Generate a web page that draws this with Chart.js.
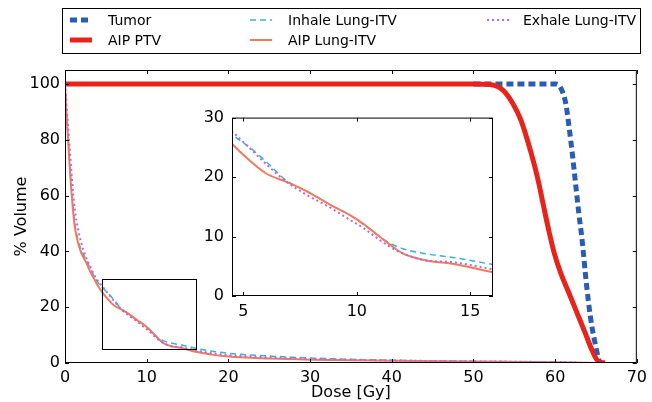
<!DOCTYPE html>
<html>
<head>
<meta charset="utf-8">
<script src="https://cdn.jsdelivr.net/npm/chart.js@4.4.0/dist/chart.umd.min.js"></script>
<style>
  html, body { margin: 0; padding: 0; background: #fff; }
  #wrap { position: relative; width: 652px; height: 402px; }
  #main { position: absolute; left: 0; top: 0; width: 652px; height: 402px; }
  #inset { position: absolute; left: 195px; top: 100px; width: 305px; height: 220px; }
</style>
</head>
<body>
<div id="wrap">
  <canvas id="main" width="652" height="402"></canvas>
  <canvas id="inset" width="305" height="220"></canvas>
</div>
<script>
// DVH curves (dose in Gy, % volume)
// tumor is hidden under the PTV line below ~50 Gy, so it starts there
const tumorDose = [50, 60.1, 60.7, 61.3, 61.7, 62.1, 62.5, 62.9, 63.3, 63.7, 64.1, 64.5, 64.9, 65.3, 65.5];
const tumorVol  = [100, 100, 98.5, 93, 84.7, 75.1, 64.4, 53.6, 44.1, 32.1, 21.4, 13.0, 7.0, 1.7, 0];

const ptvDose = [0, 50, 52, 53.6, 54.8, 55.8, 56.6, 57.4, 58.0, 58.6, 59.3, 59.9, 60.7, 61.7, 62.7, 63.7, 64.5, 65.3, 66.1];
const ptvVol  = [100, 100, 99.8, 97.8, 93.1, 87.1, 79.9, 71.6, 64.4, 56.0, 46.5, 39.3, 32.1, 25.0, 17.8, 10.6, 4.7, 0.5, 0];

const lungDose   = [0, 0.2, 0.4, 0.6, 0.8, 1.0, 1.2, 1.6, 2.0, 2.5, 3.0, 3.5, 4.0, 4.5, 5.3, 6.0, 6.9, 7.8, 8.9, 9.7, 10.3, 10.9, 11.4, 12.0, 12.9, 14.4, 16, 18, 20, 25, 30, 40, 50, 60, 65];
const inhaleVol  = [100, 89, 80, 70, 62, 55.5, 50, 44, 40.5, 37.5, 34.5, 31.5, 29, 27.2, 24.9, 22.6, 19.4, 17.6, 15.2, 13.6, 12.0, 10.3, 9.0, 8.0, 7.2, 6.4, 5.3, 4.2, 3.5, 2.5, 1.8, 1.0, 0.6, 0.3, 0];
const aipLungVol = [100, 88, 79, 69, 61, 54, 48.7, 43, 39.4, 36.5, 33.3, 30.5, 27.8, 25.6, 22.7, 20.6, 19.2, 17.6, 15.2, 13.6, 12.1, 10.3, 8.8, 7.2, 6.1, 5.3, 4.0, 3.0, 2.3, 1.6, 1.2, 0.8, 0.5, 0.3, 0];
const exhaleVol  = [100, 92, 84, 76, 68, 61, 55, 48, 43, 38.5, 35, 32, 29.5, 27.7, 24.8, 22.2, 19.2, 17.0, 14.7, 12.8, 11.4, 9.7, 8.4, 7.2, 6.1, 5.6, 4.5, 3.5, 2.8, 2.0, 1.5, 0.9, 0.6, 0.3, 0];

const mainXTicks  = [0, 10, 20, 30, 40, 50, 60, 70];
const mainYTicks  = [0, 20, 40, 60, 80, 100];
const insetXTicks = [5, 10, 15];
const insetYTicks = [0, 10, 20, 30];
const zoomBox = { x0: 4.5, x1: 16, y0: 5, y1: 30 };

const FONT = 'DejaVu Sans';
const pts = (xs, ys) => xs.map((x, i) => ({ x, y: ys[i] }));

function makeDatasets() {
  return [
    { label: 'Tumor', data: pts(tumorDose, tumorVol), borderColor: '#2b5cb5', borderWidth: 5, borderDash: [7, 4], order: 4 },
    { label: 'AIP PTV', data: pts(ptvDose, ptvVol), borderColor: '#e8231c', borderWidth: 5, order: 3 },
    { label: 'Inhale Lung-ITV', data: pts(lungDose, inhaleVol), borderColor: '#35b4d4', borderWidth: 1.5, borderDash: [6, 4], order: 2 },
    { label: 'AIP Lung-ITV', data: pts(lungDose, aipLungVol), borderColor: '#f27a5c', borderWidth: 2, order: 1 },
    { label: 'Exhale Lung-ITV', data: pts(lungDose, exhaleVol), borderColor: '#b86ad8', borderWidth: 2, borderDash: [2, 3], order: 0 },
  ].map(d => Object.assign({
    pointRadius: 0, fill: false, tension: 0, cubicInterpolationMode: 'monotone',
    borderCapStyle: 'butt', borderJoinStyle: 'round'
  }, d));
}

// box round the axes + inward ticks on all four sides (matplotlib look)
const framePlugin = {
  id: 'frame',
  afterDraw(chart) {
    const { ctx, chartArea: a, scales: { x, y } } = chart;
    const line = (x1, y1, x2, y2) => { ctx.beginPath(); ctx.moveTo(x1, y1); ctx.lineTo(x2, y2); ctx.stroke(); };
    ctx.save();
    ctx.strokeStyle = '#000';
    ctx.lineWidth = 1;
    ctx.strokeRect(a.left + 0.5, a.top + 0.5, a.width - 1, a.height - 1);
    x.ticks.forEach(t => {
      const px = Math.round(x.getPixelForValue(t.value)) + 0.5;
      line(px, a.bottom, px, a.bottom - 4);
      line(px, a.top, px, a.top + 4);
    });
    y.ticks.forEach(t => {
      const py = Math.round(y.getPixelForValue(t.value)) + 0.5;
      line(a.left, py, a.left + 4, py);
      line(a.right, py, a.right - 4, py);
    });
    ctx.restore();
  }
};

const zoomBoxPlugin = {
  id: 'zoomBox',
  afterDatasetsDraw(chart) {
    const { ctx, scales: { x, y } } = chart;
    const l = Math.round(x.getPixelForValue(zoomBox.x0)) + 0.5;
    const r = Math.round(x.getPixelForValue(zoomBox.x1)) + 0.5;
    const t = Math.round(y.getPixelForValue(zoomBox.y1)) + 0.5;
    const b = Math.round(y.getPixelForValue(zoomBox.y0)) + 0.5;
    ctx.save();
    ctx.strokeStyle = '#000';
    ctx.lineWidth = 1;
    ctx.strokeRect(l, t, r - l, b - t);
    ctx.restore();
  }
};

// matplotlib style legend, 3 columns filled top to bottom
const legendPlugin = {
  id: 'mplLegend',
  afterDraw(chart) {
    const { ctx } = chart;
    const slots = [[0, 0], [0, 1], [1, 0], [1, 1], [2, 0]];
    const colX = [70, 250, 487];
    const rowY = [20, 40];
    ctx.save();
    ctx.strokeStyle = '#000';
    ctx.lineWidth = 1;
    ctx.fillStyle = '#fff';
    ctx.fillRect(62.5, 8.5, 578, 45);
    ctx.strokeRect(62.5, 8.5, 578, 45);
    ctx.font = '14px "' + FONT + '"';
    ctx.textBaseline = 'middle';
    chart.data.datasets.forEach((ds, i) => {
      const [c, r] = slots[i];
      const x0 = colX[c], yy = rowY[r];
      ctx.save();
      ctx.strokeStyle = ds.borderColor;
      ctx.lineWidth = ds.borderWidth;
      ctx.lineCap = 'butt';
      ctx.setLineDash(ds.borderDash || []);
      ctx.beginPath();
      ctx.moveTo(x0, yy);
      ctx.lineTo(x0 + 22, yy);
      ctx.stroke();
      ctx.restore();
      ctx.fillStyle = '#000';
      ctx.fillText(ds.label, x0 + 38 - (c === 2 ? 2 : 0), yy + 1);
    });
    ctx.restore();
  }
};

const whiteAreaPlugin = {
  id: 'whiteArea',
  beforeDraw(chart) {
    const { ctx, chartArea: a } = chart;
    ctx.save();
    ctx.fillStyle = '#fff';
    ctx.fillRect(a.left, a.top, a.width, a.height);
    ctx.restore();
  }
};

const tickFont = { family: FONT, size: 16 };

new Chart(document.getElementById('main'), {
  type: 'line',
  data: { datasets: makeDatasets() },
  options: {
    responsive: false,
    animation: false,
    layout: { padding: { left: 0, right: 11, top: 70, bottom: 0 } },
    plugins: { legend: { display: false }, tooltip: { enabled: false } },
    scales: {
      x: {
        type: 'linear', min: 0, max: 70,
        afterBuildTicks: s => { s.ticks = mainXTicks.map(v => ({ value: v })); },
        afterFit: s => { s.height = 39; },
        grid: { display: false, drawTicks: false },
        border: { display: false },
        ticks: { font: tickFont, color: '#000', padding: 5, maxRotation: 0 },
        title: { display: true, text: 'Dose [Gy]', font: { family: FONT, size: 16 }, color: '#000', padding: { top: 0, bottom: 0 } }
      },
      y: {
        type: 'linear', min: 0, max: 105,
        afterBuildTicks: s => { s.ticks = mainYTicks.map(v => ({ value: v })); },
        afterFit: s => { s.width = 65; },
        grid: { display: false, drawTicks: false },
        border: { display: false },
        ticks: { font: tickFont, color: '#000', padding: 5 },
        title: { display: true, text: '% Volume', font: { family: FONT, size: 16 }, color: '#000', padding: { top: 12, bottom: 0 } }
      }
    }
  },
  plugins: [framePlugin, zoomBoxPlugin, legendPlugin]
});

new Chart(document.getElementById('inset'), {
  type: 'line',
  data: { datasets: makeDatasets() },
  options: {
    responsive: false,
    animation: false,
    layout: { padding: { left: 0, right: 7, top: 12, bottom: 0 } },
    plugins: { legend: { display: false }, tooltip: { enabled: false } },
    scales: {
      x: {
        type: 'linear', min: 4.5, max: 16,
        afterBuildTicks: s => { s.ticks = insetXTicks.map(v => ({ value: v })); },
        afterFit: s => { s.height = 24; },
        grid: { display: false, drawTicks: false },
        border: { display: false },
        ticks: { font: tickFont, color: '#000', padding: 6, maxRotation: 0 }
      },
      y: {
        type: 'linear', min: 0, max: 30,
        afterBuildTicks: s => { s.ticks = insetYTicks.map(v => ({ value: v })); },
        afterFit: s => { s.width = 37; },
        grid: { display: false, drawTicks: false },
        border: { display: false },
        ticks: { font: tickFont, color: '#000', padding: 8 }
      }
    }
  },
  plugins: [whiteAreaPlugin, framePlugin]
});
</script>
</body>
</html>
